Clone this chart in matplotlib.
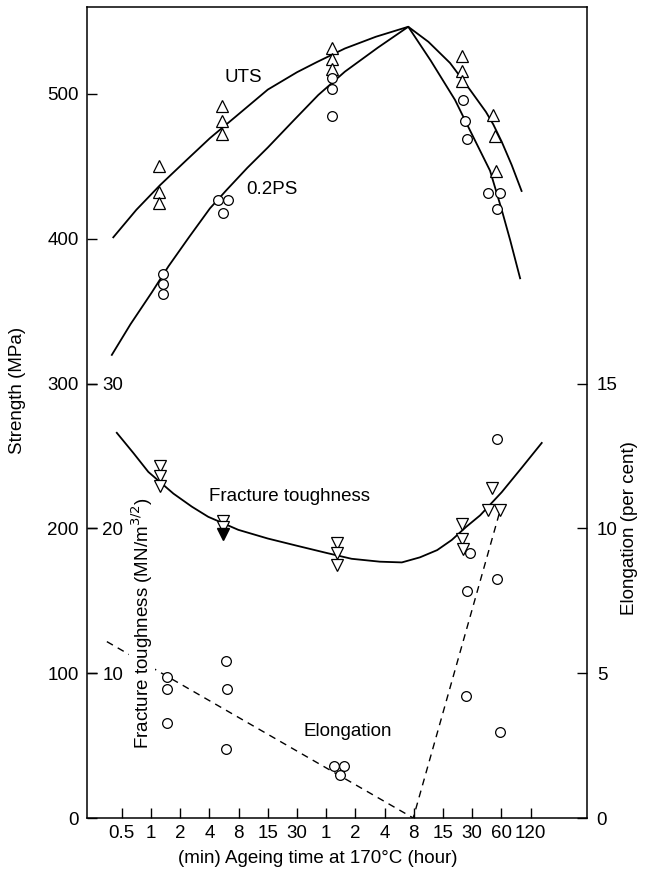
import matplotlib
matplotlib.use('Agg')
import matplotlib.pyplot as plt

plt.rcParams['font.family'] = ['Liberation Sans', 'DejaVu Sans']
plt.rcParams['font.size'] = 13.5

# x positions are tick-index units (0 = 0.5 min ... 14 = 120 h)
time_labels = ['0.5', '1', '2', '4', '8', '15', '30', '1', '2', '4', '8', '15', '30', '60', '120']

# UTS (MPa), triangles
uts_x = [1.29, 1.29, 1.29, 3.42, 3.42, 3.42, 7.19, 7.19, 7.19, 11.64, 11.64, 11.64, 12.72, 12.78, 12.81]
uts_y = [450, 432, 425, 492, 481.6, 472, 531.6, 524, 517, 526.2, 515.9, 509, 485.8, 471, 447]

# 0.2% proof stress (MPa), circles
ps_x = [1.41, 1.41, 1.41, 3.30, 3.64, 3.46, 7.19, 7.19, 7.19, 11.69, 11.75, 11.83, 12.55, 12.95, 12.86]
ps_y = [375.7, 368.8, 361.9, 426.8, 426.8, 418, 511, 503.6, 485, 495.9, 481.6, 468.6, 431.4, 431.4, 420.4]

# fracture toughness (MN/m^3/2), down triangles
ft_x = [1.31, 1.31, 1.31, 3.48, 3.48, 7.36, 7.36, 7.36, 11.65, 11.65, 11.67, 12.69, 12.53, 12.95]
ft_y = [24.3, 23.6, 22.9, 20.5, 20.1, 19.0, 18.3, 17.5, 20.3, 19.3, 18.6, 22.8, 21.3, 21.3]
ft_filled_x = [3.48]
ft_filled_y = [19.6]

# elongation (per cent), circles
el_x = [1.54, 1.54, 1.56, 3.57, 3.59, 3.56, 7.28, 7.62, 7.47, 11.92, 11.81, 11.79, 12.86, 12.86, 12.95]
el_y = [4.87, 4.44, 3.27, 5.43, 4.44, 2.37, 1.80, 1.80, 1.48, 9.16, 7.84, 4.21, 13.07, 8.24, 2.96]

# hand-drawn trend curves
uts_cx = [-0.29, 0.5, 1.31, 2.2, 3.02, 3.88, 5.0, 6.0, 6.68, 7.64, 8.7, 9.81,
          10.5, 11.24, 11.92, 12.47, 12.72, 13.01, 13.35, 13.69]
uts_cy = [401, 420, 437, 454, 469.5, 484, 503, 515, 522, 531.4, 539.5, 546.4,
          536, 521.4, 503, 487.6, 479, 467, 451, 433]
ps_cx = [-0.34, 0.3, 1.03, 1.60, 2.3, 3.02, 3.59, 4.3, 5.0, 5.9, 6.73, 7.64, 8.77, 9.81,
         10.58, 11.41, 11.92, 12.61, 13.01, 13.3, 13.64]
ps_cy = [319.8, 341, 363, 381, 401, 421, 433.7, 449, 463, 482, 499.3, 515.4, 532, 546.4,
         523, 495.9, 475, 447, 420, 399, 372.7]
ft_cx = [-0.17, 0.4, 0.91, 1.77, 2.4, 2.96, 3.99, 5.0, 6.0, 7.02, 7.87, 8.84, 9.59,
         10.21, 10.8, 11.30, 11.79, 12.27, 13.01, 13.7, 14.38]
ft_cy = [26.6, 25.2, 23.9, 22.4, 21.5, 20.8, 19.9, 19.3, 18.8, 18.3, 17.9, 17.7, 17.65,
         18.0, 18.5, 19.2, 20.1, 20.9, 22.5, 24.2, 25.9]
el_cx = [-0.51, 9.98, 12.95]
el_cy = [6.09, 0.0, 10.6]

fig = plt.figure(figsize=(6.48, 8.8), dpi=100)
ax = fig.add_axes([87 / 648, 62 / 880, 500 / 648, 810.5 / 880])
ax_ft = ax.twinx()
ax_el = ax.twinx()

s_top = 559.7
ax.set_ylim(0, s_top)
ax_ft.set_ylim(0, s_top / 10)
ax_el.set_ylim(0, s_top / 20)
ax.set_xlim(-1.19, 15.93)

# strength axis
ax.set_yticks([0, 100, 200, 300, 400, 500])
ax.tick_params(axis='y', direction='in', length=7, width=1, pad=6)
ax.set_xticks(range(len(time_labels)))
ax.set_xticklabels(time_labels)
ax.tick_params(axis='x', direction='in', length=7, width=1, pad=5)
ax.tick_params(top=False, right=False)
for side in ['left', 'right', 'top', 'bottom']:
    ax.spines[side].set_linewidth(1.1)

# fracture toughness: labels inside, on the left
for s in ax_ft.spines.values():
    s.set_visible(False)
ax_ft.yaxis.tick_left()
ax_ft.set_yticks([10, 20, 30])
ax_ft.tick_params(axis='y', direction='in', length=7, width=1, pad=-11)
for lbl in ax_ft.get_yticklabels():
    lbl.set_horizontalalignment('left')
    lbl.set_bbox(dict(facecolor='white', edgecolor='none', pad=0.5))
    lbl.set_zorder(6)

# elongation axis on the right
for s in ax_el.spines.values():
    s.set_visible(False)
ax_el.set_yticks([0, 5, 10, 15])
ax_el.tick_params(axis='y', direction='in', length=7, width=1, pad=7)

lw = 1.3
ax.plot(uts_cx, uts_cy, color='black', lw=lw, zorder=2)
ax.plot(ps_cx, ps_cy, color='black', lw=lw, zorder=2)
ax.plot(uts_x, uts_y, linestyle='none', marker='^', ms=8, mfc='white', mec='black', mew=0.9, zorder=3)
ax.plot(ps_x, ps_y, linestyle='none', marker='o', ms=7, mfc='white', mec='black', mew=0.9, zorder=3)

ax_ft.plot(ft_cx, ft_cy, color='black', lw=lw, zorder=2)
ax_ft.plot(ft_x, ft_y, linestyle='none', marker='v', ms=8, mfc='white', mec='black', mew=0.9, zorder=3)
ax_ft.plot(ft_filled_x, ft_filled_y, linestyle='none', marker='v', ms=8, mfc='black', mec='black', zorder=3)

ax_el.plot(el_cx, el_cy, color='black', lw=1.0, linestyle=(0, (5, 4)), zorder=2)
ax_el.plot(el_x, el_y, linestyle='none', marker='o', ms=7, mfc='white', mec='black', mew=0.9, zorder=3)

# curve labels
ax.text(4.15, 511.7, 'UTS', ha='center', va='center')
ax.text(5.15, 433.7, '0.2PS', ha='center', va='center')
ax_ft.text(5.76, 22.17, 'Fracture toughness', ha='center', va='center')
ax_el.text(7.75, 3.0, 'Elongation', ha='center', va='center')

# axis titles
fig.text(18 / 648, 1 - 390 / 880, 'Strength (MPa)', rotation=90, ha='center', va='center')
fig.text(142 / 648, 1 - 623 / 880, 'Fracture toughness (MN/m$^{3/2}$)', rotation=90, ha='center',
         va='center', bbox=dict(facecolor='white', edgecolor='none', pad=0), zorder=5)
fig.text(629 / 648, 1 - 528 / 880, 'Elongation (per cent)', rotation=90, ha='center', va='center')
fig.text(318 / 648, 1 - 858 / 880, '(min) Ageing time at 170\u00b0C (hour)', ha='center', va='center')

fig.savefig('out.png', dpi=100)
